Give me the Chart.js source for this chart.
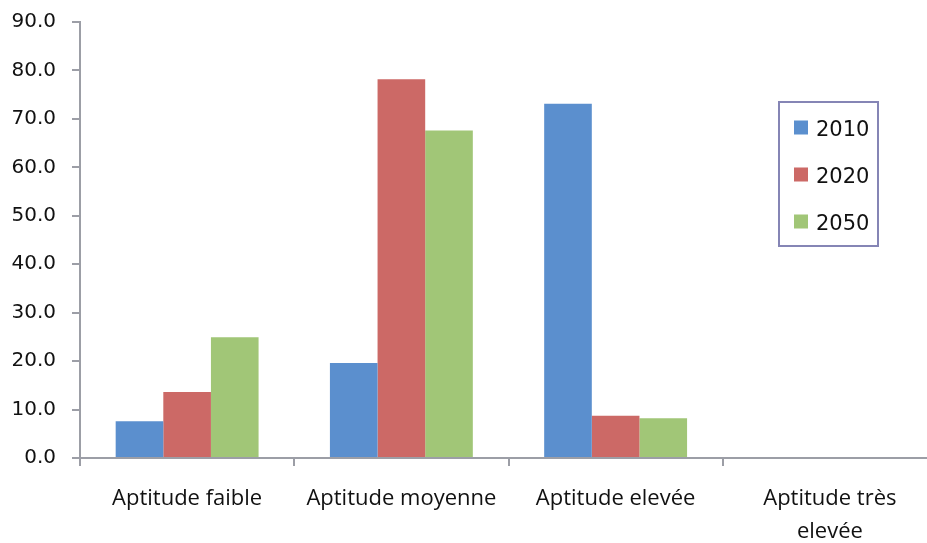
<!DOCTYPE html>
<html>
<head>
<meta charset="utf-8">
<script src="https://cdn.jsdelivr.net/npm/chart.js@4/dist/chart.umd.min.js"></script>
<style>
  html, body { margin: 0; padding: 0; overflow: hidden; background: #fff; }
</style>
</head>
<body>
<canvas id="myChart" width="945" height="543"></canvas>
<script>
const categories = ['Aptitude faible', 'Aptitude moyenne', 'Aptitude elevée', ['Aptitude très', 'elevée']];
const years = ['2010', '2020', '2050'];
const values2010 = [7.6, 19.6, 73.1, 0];
const values2020 = [13.6, 78.2, 8.7, 0];
const values2050 = [24.9, 67.6, 8.2, 0];
const colors = ['#5b8fce', '#cc6966', '#a1c677'];
const axisColor = '#9c9ea6';

// legend box drawn by hand (framed, inside the plot)
const boxLegend = {
    id: 'boxLegend',
    afterDraw(chart) {
        const c = chart.ctx;
        c.save();
        c.strokeStyle = '#8585b5';
        c.lineWidth = 2;
        c.strokeRect(779, 102, 99, 144);
        c.font = '21px "DejaVu Sans"';
        c.textBaseline = 'middle';
        c.fillStyle = '#111';
        chart.data.datasets.forEach((ds, i) => {
            const y = 127.5 + i * 47;
            c.fillStyle = ds.backgroundColor;
            c.fillRect(794, y - 7, 14, 14);
            c.fillStyle = '#111';
            c.fillText(ds.label, 816, y + 3);
        });
        c.restore();
    }
};

const ctx = document.getElementById('myChart');
new Chart(ctx, {
    type: 'bar',
    data: {
        labels: categories,
        datasets: [
            { label: years[0], data: values2010, backgroundColor: colors[0] },
            { label: years[1], data: values2020, backgroundColor: colors[1] },
            { label: years[2], data: values2050, backgroundColor: colors[2] }
        ]
    },
    options: {
        responsive: false,
        animation: false,
        devicePixelRatio: 1,
        layout: { padding: { top: 22, right: 8, left: 0, bottom: 0 } },
        datasets: { bar: { categoryPercentage: 0.667, barPercentage: 1.0 } },
        plugins: { legend: { display: false }, tooltip: { enabled: false } },
        scales: {
            x: {
                afterFit: s => { s.height = 85; },
                border: { color: axisColor, width: 2 },
                grid: { offset: true, drawOnChartArea: false, tickLength: 8, color: axisColor, lineWidth: 2 },
                ticks: { color: '#111', font: { family: 'Open Sans', size: 22, lineHeight: 1.5 }, padding: 16, maxRotation: 0, autoSkip: false }
            },
            y: {
                min: 0,
                max: 90,
                afterFit: s => { s.width = 80; s.paddingTop = 8; },
                border: { color: axisColor, width: 2 },
                grid: { drawOnChartArea: false, tickLength: 8, color: axisColor, lineWidth: 2 },
                ticks: {
                    stepSize: 10,
                    color: '#111',
                    padding: 16,
                    font: { family: 'DejaVu Sans', size: 20 },
                    callback: v => v.toFixed(1)
                }
            }
        }
    },
    plugins: [boxLegend]
});
</script>
</body>
</html>
